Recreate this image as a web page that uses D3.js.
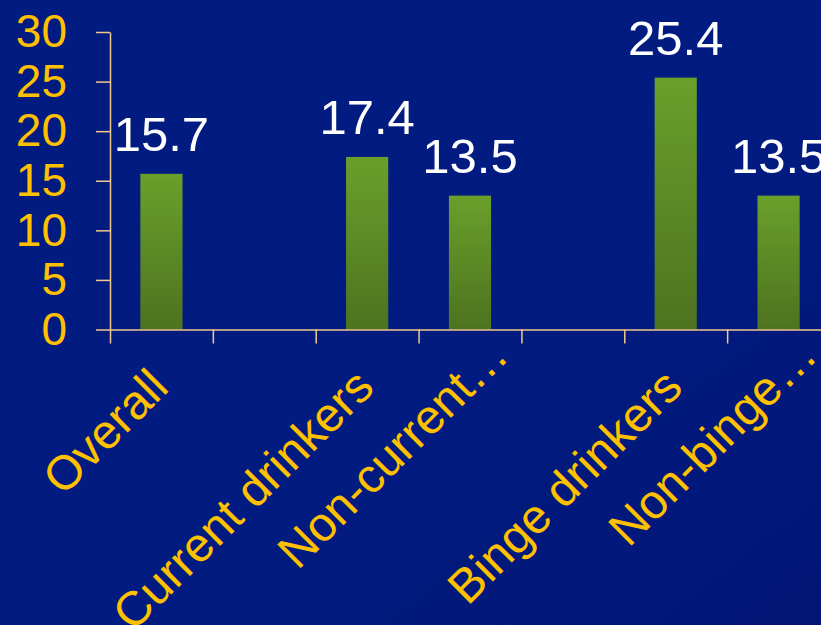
<!DOCTYPE html>
<html>
<head>
<meta charset="utf-8">
<script src="https://cdn.jsdelivr.net/npm/d3@7"></script>
<style>
  html, body { margin: 0; padding: 0; overflow: hidden; }
  svg { display: block; font-family: "Liberation Sans", Arial, sans-serif; }
  .axis path, .axis line { stroke: #f2c88c; stroke-width: 1.5; }
  .tick-label { fill: #ffc000; font-size: 46px; }
  .cat-label { fill: #ffc000; font-size: 48px; }
  .value-label { fill: #ffffff; font-size: 49px; }
</style>
</head>
<body>
<div id="chart"></div>
<script>
// slots on the category axis (empty strings are spacer slots)
var categories = ['Overall', '', 'Current drinkers', 'Non-current…', '', 'Binge drinkers', 'Non-binge…'];
var values = [15.7, null, 17.4, 13.5, null, 25.4, 13.5];
var yTicks = [0, 5, 10, 15, 20, 25, 30];

var W = 821, H = 625;
var svg = d3.select('#chart').append('svg')
  .attr('width', W)
  .attr('height', H);

var defs = svg.append('defs');
var bg = defs.append('linearGradient').attr('id', 'bg')
  .attr('x1', '0%').attr('y1', '0%').attr('x2', '100%').attr('y2', '100%');
bg.append('stop').attr('offset', '0%').attr('stop-color', '#021b81');
bg.append('stop').attr('offset', '60%').attr('stop-color', '#021b80');
bg.append('stop').attr('offset', '100%').attr('stop-color', '#021575');

var barGrad = defs.append('linearGradient').attr('id', 'bar')
  .attr('x1', '0').attr('y1', '0').attr('x2', '0').attr('y2', '1');
barGrad.append('stop').attr('offset', '0%').attr('stop-color', '#6a9f2b');
barGrad.append('stop').attr('offset', '100%').attr('stop-color', '#4d731f');

svg.append('rect').attr('width', W).attr('height', H).attr('fill', 'url(#bg)');

// scales
var x = d3.scaleBand()
  .domain(d3.range(categories.length))
  .range([110, 830])
  .paddingInner(0.59)
  .paddingOuter(0.295);
var xEdge = d3.scaleLinear().domain([0, categories.length]).range([110, 830]);
var y = d3.scaleLinear().domain([0, 30]).range([329.5, 32]);

var bars = values.map(function(v, i) { return { v: v, i: i }; })
  .filter(function(d) { return d.v !== null; });

// bars
svg.selectAll('.bar')
  .data(bars)
  .enter().append('rect')
  .attr('class', 'bar')
  .attr('x', function(d) { return x(d.i); })
  .attr('width', x.bandwidth())
  .attr('y', function(d) { return y(d.v); })
  .attr('height', function(d) { return y(0) - y(d.v); })
  .attr('fill', 'url(#bar)');

// value labels
svg.selectAll('.value-label')
  .data(bars)
  .enter().append('text')
  .attr('class', 'value-label')
  .attr('text-anchor', 'middle')
  .attr('x', function(d) { return x(d.i) + x.bandwidth() / 2; })
  .attr('y', function(d) { return y(d.v) - 23; })
  .text(function(d) { return d3.format('.1f')(d.v); });

// y axis
var yAxis = d3.axisLeft(y)
  .tickValues(yTicks)
  .tickSize(14)
  .tickSizeOuter(0)
  .tickPadding(29);
var gy = svg.append('g')
  .attr('class', 'axis')
  .attr('transform', 'translate(110,0)')
  .call(yAxis);
gy.selectAll('text').attr('class', 'tick-label').attr('fill', null);

// x axis: ticks sit on the slot edges
var xAxis = d3.axisBottom(xEdge)
  .tickValues(d3.range(categories.length + 1))
  .tickSize(14)
  .tickSizeOuter(0)
  .tickFormat('');
svg.append('g')
  .attr('class', 'axis')
  .attr('transform', 'translate(0,' + y(0) + ')')
  .call(xAxis);

// rotated category labels
svg.selectAll('.cat-label')
  .data(categories.map(function(c, i) { return { c: c, i: i }; }).filter(function(d) { return d.c !== ''; }))
  .enter().append('text')
  .attr('class', 'cat-label')
  .attr('text-anchor', 'end')
  .attr('transform', function(d) {
    return 'translate(' + (x(d.i) + x.bandwidth() / 2 + 9) + ',' + (y(0) + 60) + ') rotate(-45)';
  })
  // truncated labels run further along the baseline
  .attr('dx', function(d) { return d.c.slice(-1) === '…' ? 45 : 0; })
  .text(function(d) { return d.c; });
</script>
</body>
</html>
